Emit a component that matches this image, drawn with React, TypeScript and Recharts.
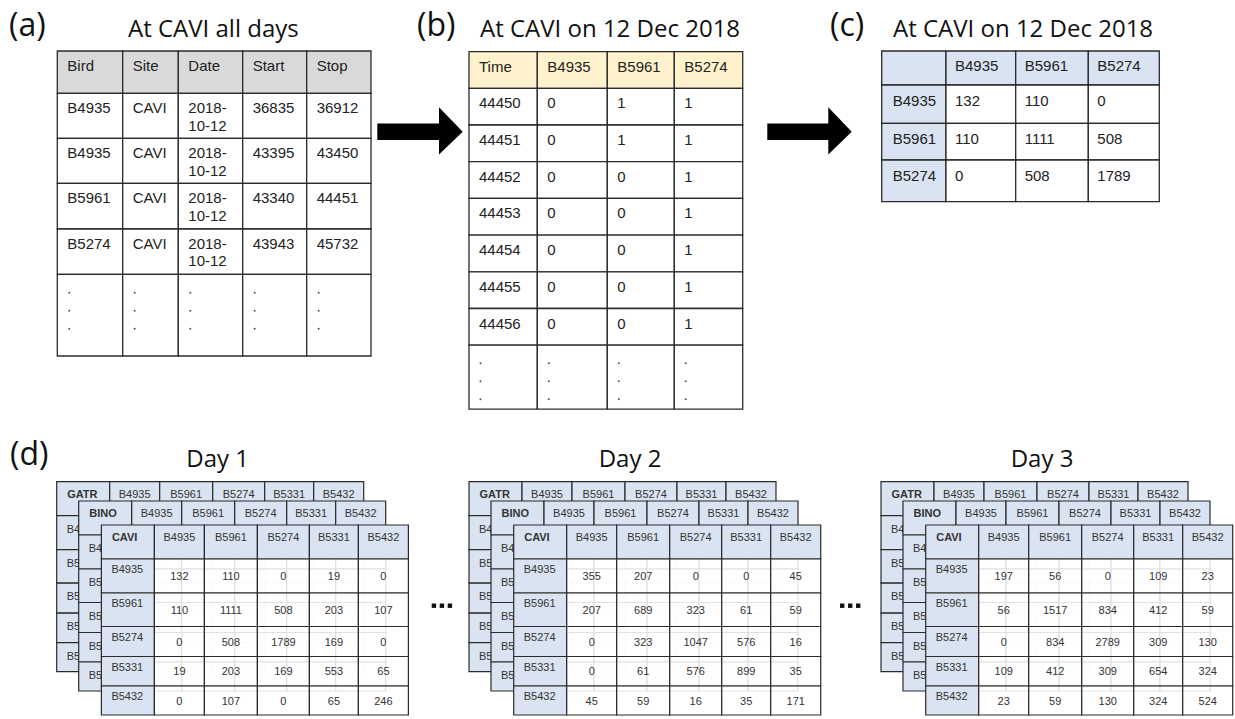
import { ComposedChart, Rectangle, Layer, Polygon } from 'recharts'

// ---- data ----
const birds = ['B4935', 'B5961', 'B5274', 'B5331', 'B5432']
const sites = ['GATR', 'BINO', 'CAVI']
const dayLabels = ['Day 1', 'Day 2', 'Day 3']

const aHeaders = ['Bird', 'Site', 'Date', 'Start', 'Stop']
const aBirds = ['B4935', 'B4935', 'B5961', 'B5274']
const aSites = ['CAVI', 'CAVI', 'CAVI', 'CAVI']
const aDates = ['2018-10-12', '2018-10-12', '2018-10-12', '2018-10-12']
const aStarts = [36835, 43395, 43340, 43943]
const aStops = [36912, 43450, 44451, 45732]

const bBirds = ['B4935', 'B5961', 'B5274']
const bTimes = [44450, 44451, 44452, 44453, 44454, 44455, 44456]
const bPresence = [
  [0, 0, 0, 0, 0, 0, 0],
  [1, 1, 0, 0, 0, 0, 0],
  [1, 1, 1, 1, 1, 1, 1],
]

const cBirds = ['B4935', 'B5961', 'B5274']
const cOverlap = [
  [132, 110, 0],
  [110, 1111, 508],
  [0, 508, 1789],
]

const day1 = [
  [132, 110, 0, 19, 0],
  [110, 1111, 508, 203, 107],
  [0, 508, 1789, 169, 0],
  [19, 203, 169, 553, 65],
  [0, 107, 0, 65, 246],
]
const day2 = [
  [355, 207, 0, 0, 45],
  [207, 689, 323, 61, 59],
  [0, 323, 1047, 576, 16],
  [0, 61, 576, 899, 35],
  [45, 59, 16, 35, 171],
]
const day3 = [
  [197, 56, 0, 109, 23],
  [56, 1517, 834, 412, 59],
  [0, 834, 2789, 309, 130],
  [109, 412, 309, 654, 324],
  [23, 59, 130, 324, 524],
]
const days = [day1, day2, day3]

// ---- style ----
const FONT = '"Liberation Sans", Arial, sans-serif'
const TITLE_FONT = '"Open Sans", Roboto, sans-serif'
const LINE = '#2b2b2b'
const GRAY = '#d9d9d9'
const YELLOW = '#fff2cc'
const BLUE = '#dae3f1'
const INK = '#222'

const edges = (start: number, sizes: number[]) => {
  const out = [start]
  sizes.forEach(s => out.push(out[out.length - 1] + s))
  return out
}

const Cell = ({ x, y, w, h, fill, sw = 1.3 }: any) => (
  <Rectangle x={x} y={y} width={w} height={h} fill={fill} stroke={LINE} strokeWidth={sw} />
)

const Dots = ({ x, y }: { x: number; y: number }) => (
  <g>
    {[0, 18, 36].map(d => (
      <circle key={d} cx={x} cy={y + d} r={1} fill="#555" />
    ))}
  </g>
)

function TableA() {
  const xs = edges(57.3, [65.4, 55.6, 64.4, 64, 64.3])
  const ys = edges(51, [42.3, 45, 45, 45.7, 45.3, 81.7])
  const rows = aBirds.map((b, i) => [b, aSites[i], aDates[i], String(aStarts[i]), String(aStops[i])])
  return (
    <Layer>
      {aHeaders.map((h, c) => (
        <g key={h}>
          <Cell x={xs[c]} y={ys[0]} w={xs[c + 1] - xs[c]} h={ys[1] - ys[0]} fill={GRAY} />
          <text x={xs[c] + 10} y={ys[0] + 20} fontSize={15} fontFamily={FONT} fill={INK}>{h}</text>
        </g>
      ))}
      {rows.map((row, r) =>
        row.map((v, c) => {
          const parts = c === 2 ? [v.slice(0, 5), v.slice(5)] : [v]
          return (
            <g key={`${r}-${c}`}>
              <Cell x={xs[c]} y={ys[r + 1]} w={xs[c + 1] - xs[c]} h={ys[r + 2] - ys[r + 1]} fill="#fff" />
              {parts.map((p, k) => (
                <text key={k} x={xs[c] + 10} y={ys[r + 1] + 20 + k * 17.4} fontSize={15} fontFamily={FONT} fill={INK}>{p}</text>
              ))}
            </g>
          )
        })
      )}
      {aHeaders.map((h, c) => (
        <g key={'d' + h}>
          <Cell x={xs[c]} y={ys[5]} w={xs[c + 1] - xs[c]} h={ys[6] - ys[5]} fill="#fff" />
          <Dots x={xs[c] + 12} y={ys[5] + 18.5} />
        </g>
      ))}
    </Layer>
  )
}

function TableB() {
  const xs = edges(469, [68.3, 70, 67, 68.4])
  const ys = edges(51.7, [36.6, 36.7, 36.7, 36.7, 36.7, 36.7, 36.7, 36.7, 64])
  const header = ['Time', ...bBirds]
  return (
    <Layer>
      {header.map((h, c) => (
        <g key={h}>
          <Cell x={xs[c]} y={ys[0]} w={xs[c + 1] - xs[c]} h={ys[1] - ys[0]} fill={YELLOW} />
          <text x={xs[c] + 10} y={ys[0] + 20} fontSize={15} fontFamily={FONT} fill={INK}>{h}</text>
        </g>
      ))}
      {bTimes.map((t, r) =>
        [t, ...bPresence.map(p => p[r])].map((v, c) => (
          <g key={`${r}-${c}`}>
            <Cell x={xs[c]} y={ys[r + 1]} w={xs[c + 1] - xs[c]} h={ys[r + 2] - ys[r + 1]} fill="#fff" />
            <text x={xs[c] + 10} y={ys[r + 1] + 20} fontSize={15} fontFamily={FONT} fill={INK}>{v}</text>
          </g>
        ))
      )}
      {header.map((h, c) => (
        <g key={'d' + h}>
          <Cell x={xs[c]} y={ys[8]} w={xs[c + 1] - xs[c]} h={ys[9] - ys[8]} fill="#fff" />
          <Dots x={xs[c] + 11.5} y={ys[8] + 18} />
        </g>
      ))}
    </Layer>
  )
}

function TableC() {
  const xs = edges(881.7, [64.3, 69.7, 72.6, 71])
  const ys = edges(51, [34, 38.3, 36.7, 41.7])
  return (
    <Layer>
      {['', ...cBirds].map((h, c) => (
        <g key={'h' + c}>
          <Cell x={xs[c]} y={ys[0]} w={xs[c + 1] - xs[c]} h={ys[1] - ys[0]} fill={BLUE} />
          <text x={xs[c] + 9} y={ys[0] + 20} fontSize={15} fontFamily={FONT} fill={INK}>{h}</text>
        </g>
      ))}
      {cBirds.map((b, r) =>
        [b, ...cOverlap[r]].map((v, c) => (
          <g key={`${r}-${c}`}>
            <Cell x={xs[c]} y={ys[r + 1]} w={xs[c + 1] - xs[c]} h={ys[r + 2] - ys[r + 1]} fill={c === 0 ? BLUE : '#fff'} />
            <text x={xs[c] + (c === 0 ? 11 : 9)} y={ys[r + 1] + 21} fontSize={15} fontFamily={FONT} fill={INK}>{v}</text>
          </g>
        ))
      )}
    </Layer>
  )
}

const SW = [53, 50, 53, 52, 49, 50]
const SH = [34, 34, 33.5, 30, 29.5, 29]

function StackTable({ x, y, site, values }: { x: number; y: number; site: string; values?: number[][] }) {
  const xs = edges(x, SW)
  const ys = edges(y, SH)
  const front = !!values
  return (
    <Layer>
      {SH.map((_, r) =>
        SW.map((__, c) => {
          const head = r === 0 || c === 0
          return (
            <Cell key={`${r}-${c}`} x={xs[c]} y={ys[r]} w={SW[c]} h={SH[r]} sw={1.2}
              fill={head ? BLUE : 'rgba(255,255,255,0.86)'} />
          )
        })
      )}
      <text x={xs[0] + 10.5} y={ys[0] + 16} fontSize={11} fontWeight="bold" fontFamily={FONT} fill="#333">{site}</text>
      {birds.map((b, i) => (
        <text key={'h' + b} x={(xs[i + 1] + xs[i + 2]) / 2} y={ys[0] + 16} fontSize={11} textAnchor="middle" fontFamily={FONT} fill="#333">{b}</text>
      ))}
      {birds.map((b, i) => (
        <text key={'r' + b} x={xs[0] + 10} y={ys[i + 1] + (front ? 14 : 17)} fontSize={11} fontFamily={FONT} fill="#333">{b}</text>
      ))}
      {front && values!.map((row, r) =>
        row.map((v, c) => (
          <text key={`${r}-${c}`} x={(xs[c + 1] + xs[c + 2]) / 2} y={(ys[r + 1] + ys[r + 2]) / 2 + 4}
            fontSize={11} textAnchor="middle" fontFamily={FONT} fill="#333">{v}</text>
        ))
      )}
    </Layer>
  )
}

const Arrow = ({ x1, x2, tip }: { x1: number; x2: number; tip: number }) => (
  <Polygon
    points={[
      { x: x1, y: 123.5 }, { x: x2, y: 123.5 }, { x: x2, y: 107.3 }, { x: tip, y: 131.7 },
      { x: x2, y: 154.5 }, { x: x2, y: 140 }, { x: x1, y: 140 },
    ]}
    fill="#000"
    stroke="none"
  />
)

const Ellipsis = ({ x, y }: { x: number; y: number }) => (
  <g>
    {[0, 8, 16].map(d => (
      <rect key={d} x={x + d} y={y} width={4.4} height={4.4} fill="#111" />
    ))}
  </g>
)

export default function App() {
  const stackLefts = [56.7, 469, 881]
  return (
    <div style={{ position: 'absolute', left: 0, top: 0, background: '#fff' }}>
      <ComposedChart width={1235} height={719} margin={{ top: 0, right: 0, bottom: 0, left: 0 }}>
        <rect x={0} y={0} width={1235} height={719} fill="#fff" />
        <text x={9} y={36} fontSize={32} fontFamily={TITLE_FONT} fill="#111">(a)</text>
        <text x={417} y={36} fontSize={32} fontFamily={TITLE_FONT} fill="#111">(b)</text>
        <text x={830} y={36} fontSize={32} fontFamily={TITLE_FONT} fill="#111">(c)</text>
        <text x={10} y={465} fontSize={32} fontFamily={TITLE_FONT} fill="#111">(d)</text>
        <text x={128} y={37.3} fontSize={24} fontFamily={TITLE_FONT} fill="#111">At CAVI all days</text>
        <text x={480} y={36.7} fontSize={24} fontFamily={TITLE_FONT} fill="#111">At CAVI on 12 Dec 2018</text>
        <text x={893} y={36.7} fontSize={24} fontFamily={TITLE_FONT} fill="#111">At CAVI on 12 Dec 2018</text>
        <TableA />
        <TableB />
        <TableC />
        <Arrow x1={377.3} x2={439} tip={462.7} />
        <Arrow x1={767.3} x2={828.3} tip={851.7} />
        {dayLabels.map((d, i) => (
          <Layer key={d}>
            <text x={stackLefts[i] + 161} y={466.7} fontSize={24} textAnchor="middle" fontFamily={TITLE_FONT} fill="#111">{d}</text>
            <StackTable x={stackLefts[i]} y={481.7} site={sites[0]} />
            <StackTable x={stackLefts[i] + 22} y={501} site={sites[1]} />
            <StackTable x={stackLefts[i] + 44.7} y={525} site={sites[2]} values={days[i]} />
          </Layer>
        ))}
        <Ellipsis x={431.7} y={603.5} />
        <Ellipsis x={840} y={603.5} />
      </ComposedChart>
    </div>
  )
}
